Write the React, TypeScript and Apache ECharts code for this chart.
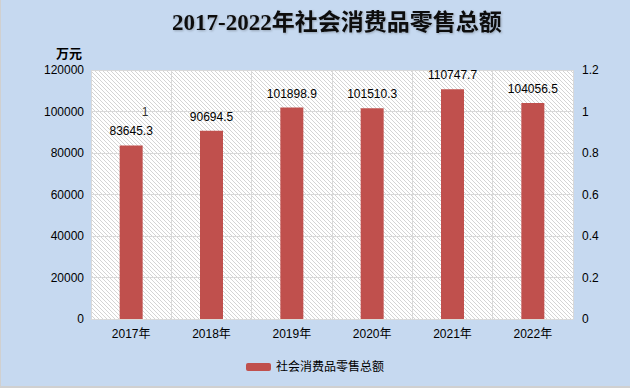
import React, { useEffect, useRef } from "react";
import * as echarts from "echarts";

const categories = ["2017年", "2018年", "2019年", "2020年", "2021年", "2022年"];
const salesValues = [83645.3, 90694.5, 101898.9, 101510.3, 110747.7, 104056.5];
const secondaryValues: (number | null)[] = [1, null, null, null, null, null];
const seriesName = "社会消费品零售总额";
const titleText = "2017-2022年社会消费品零售总额";
const unitText = "万元";

function makeHatch(): HTMLCanvasElement {
  const c = document.createElement("canvas");
  c.width = 4;
  c.height = 4;
  const ctx = c.getContext("2d")!;
  ctx.fillStyle = "#ffffff";
  ctx.fillRect(0, 0, 4, 4);
  ctx.fillStyle = "#d4d4d4";
  for (let i = 0; i < 4; i++) ctx.fillRect(i, i, 1, 1);
  return c;
}

export default function App() {
  const ref = useRef<HTMLDivElement>(null);
  useEffect(() => {
    document.body.style.margin = "0";
    const chart = echarts.init(ref.current!, undefined, { renderer: "svg" });
    const font = "'Liberation Sans', 'Noto Sans CJK SC', sans-serif";
    chart.setOption({
      animation: false,
      backgroundColor: "#c6d9f0",
      title: {
        text: titleText,
        left: 167,
        top: 6,
        textStyle: {
          fontFamily: "'Liberation Serif', 'Noto Sans CJK SC', serif",
          fontSize: 23,
          fontWeight: "bold",
          color: "#111",
          textShadowColor: "rgba(0,0,0,0.25)",
          textShadowBlur: 2,
          textShadowOffsetX: 1,
          textShadowOffsetY: 1,
        },
      },
      graphic: [
        {
          type: "text",
          left: 56,
          top: 46,
          style: { text: unitText, font: "bold 13px 'Noto Sans CJK SC', sans-serif", fill: "#000" },
        },
        {
          type: "rect",
          left: 0,
          top: 0,
          shape: { width: 1, height: 388 },
          style: { fill: "#d0d0d0" },
          silent: true,
        },
        {
          type: "rect",
          left: 0,
          bottom: 0,
          shape: { width: 630, height: 2 },
          style: { fill: "#d0d0d0" },
          silent: true,
        },
      ],
      legend: {
        data: [seriesName],
        top: 356,
        left: "center",
        itemWidth: 25,
        itemHeight: 8,
        itemGap: 6,
        textStyle: { fontFamily: font, fontSize: 12, color: "#000" },
      },
      grid: {
        left: 91,
        right: 57,
        top: 70,
        bottom: 69,
        show: true,
        backgroundColor: { image: makeHatch(), repeat: "repeat" },
        borderWidth: 0,
      },
      xAxis: {
        type: "category",
        data: categories,
        axisLine: { show: true, lineStyle: { color: "#d9d9d9" } },
        axisTick: { show: false },
        splitLine: { show: true, lineStyle: { color: "#d9d9d9", width: 1 } },
        axisLabel: { fontFamily: font, fontSize: 12, color: "#000", margin: 9 },
      },
      yAxis: [
        {
          type: "value",
          min: 0,
          max: 120000,
          interval: 20000,
          axisLine: { show: false },
          axisTick: { show: false },
          splitLine: { show: true, lineStyle: { color: "#d9d9d9", width: 1 } },
          axisLabel: {
            fontFamily: font,
            fontSize: 12,
            color: "#000",
            margin: 7,
            formatter: (v: number) => String(v),
          },
        },
        {
          type: "value",
          min: 0,
          max: 1.2,
          interval: 0.2,
          axisLine: { show: false },
          axisTick: { show: false },
          splitLine: { show: false },
          axisLabel: {
            fontFamily: font,
            fontSize: 12,
            color: "#000",
            margin: 9,
            formatter: (v: number) => String(Math.round(v * 10) / 10),
          },
        },
      ],
      series: [
        {
          name: seriesName,
          type: "bar",
          data: salesValues,
          barWidth: 23,
          itemStyle: { color: "#c0504d" },
          label: {
            show: true,
            position: "top",
            distance: 8,
            fontFamily: font,
            fontSize: 12,
            color: "#000",
          },
        },
        {
          name: "secondary",
          type: "scatter",
          yAxisIndex: 1,
          data: secondaryValues,
          symbolSize: 0,
          label: {
            show: true,
            position: "inside",
            offset: [14, 0],
            fontFamily: font,
            fontSize: 12,
            color: "#000",
            formatter: (p: any) => String(p.value),
          },
        },
      ],
    });
    return () => chart.dispose();
  }, []);
  return <div ref={ref} style={{ width: 630, height: 388 }} />;
}
